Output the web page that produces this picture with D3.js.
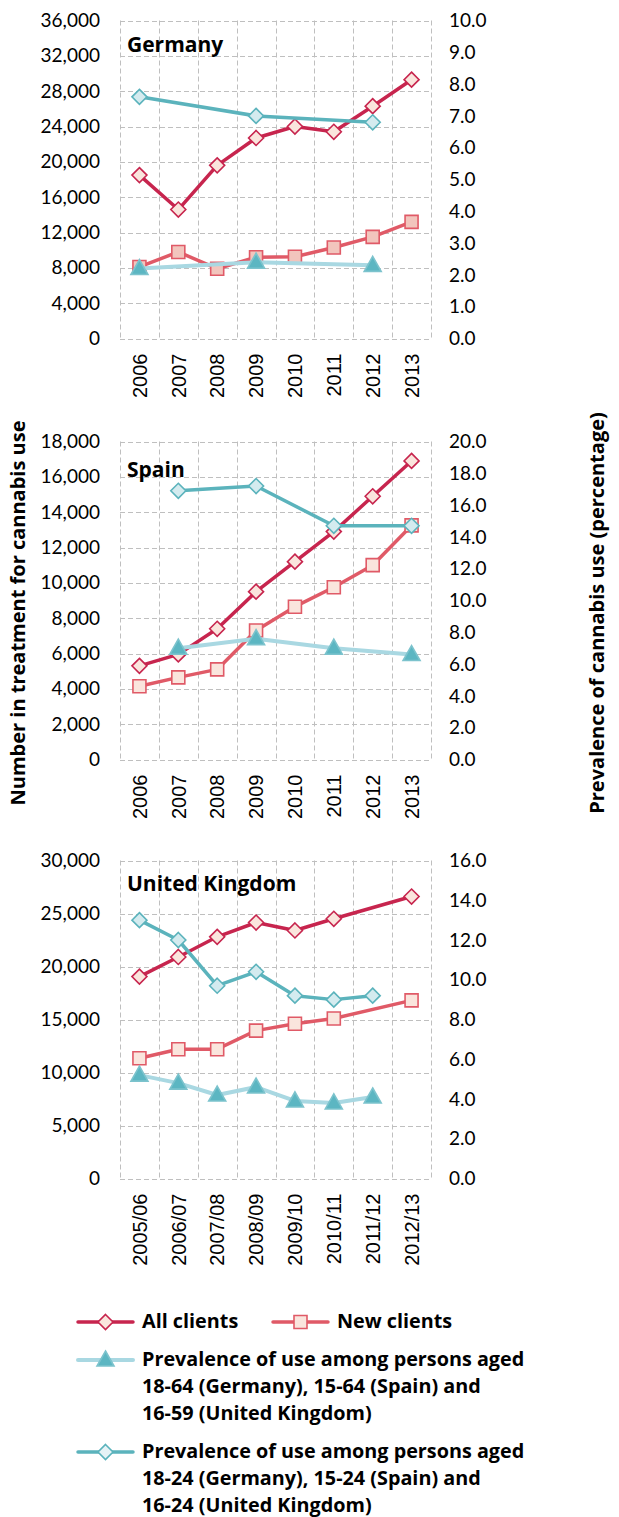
<!DOCTYPE html>
<html>
<head>
<meta charset="utf-8" />
<script src="https://d3js.org/d3.v7.min.js"></script>
<style>
  body { margin: 0; background: #fff; }
  text { font-family: Lato, "Open Sans", sans-serif; fill: #000; }
  text.bold { font-family: "Open Sans", Lato, sans-serif; font-weight: bold; }
  .grid line { stroke: #bfbfbf; stroke-width: 1; stroke-dasharray: 5,3; }
</style>
</head>
<body>
<div id="chart"></div>
<script>
// ---- data ----
var germanyYears = ["2006", "2007", "2008", "2009", "2010", "2011", "2012", "2013"];
var germanyAll = [18500, 14600, 19600, 22700, 24000, 23400, 26300, 29300];
var germanyNew = [8100, 9800, 7900, 9200, 9250, 10300, 11500, 13200];
var germanyAdult = [2.2, null, null, 2.4, null, null, 2.3, null];
var germanyYoung = [7.6, null, null, 7.0, null, null, 6.8, null];
var germanyLeftTicks = [0, 4000, 8000, 12000, 16000, 20000, 24000, 28000, 32000, 36000];
var germanyRightTicks = [0, 1, 2, 3, 4, 5, 6, 7, 8, 9, 10];

var spainYears = ["2006", "2007", "2008", "2009", "2010", "2011", "2012", "2013"];
var spainAll = [5300, 5950, 7400, 9500, 11200, 12900, 14900, 16900];
var spainNew = [4150, 4650, 5100, 7300, 8650, 9750, 11000, 13250];
var spainAdult = [null, 7.0, null, 7.6, null, 7.0, null, 6.6];
var spainYoung = [null, 16.9, null, 17.2, null, 14.7, null, 14.7];
var spainLeftTicks = [0, 2000, 4000, 6000, 8000, 10000, 12000, 14000, 16000, 18000];
var spainRightTicks = [0, 2, 4, 6, 8, 10, 12, 14, 16, 18, 20];

var ukYears = ["2005/06", "2006/07", "2007/08", "2008/09", "2009/10", "2010/11", "2011/12", "2012/13"];
var ukAll = [19050, 20900, 22800, 24150, 23400, 24500, null, 26600];
var ukNew = [11350, 12200, 12200, 13950, 14600, 15100, null, 16800];
var ukAdult = [5.2, 4.8, 4.2, 4.6, 3.9, 3.8, 4.1, null];
var ukYoung = [13.0, 12.0, 9.7, 10.4, 9.2, 9.0, 9.2, null];
var ukLeftTicks = [0, 5000, 10000, 15000, 20000, 25000, 30000];
var ukRightTicks = [0, 2, 4, 6, 8, 10, 12, 14, 16];

var legendLabels = ["All clients", "New clients",
  ["Prevalence of use among persons aged", "18-64 (Germany), 15-64 (Spain) and", "16-59 (United Kingdom)"],
  ["Prevalence of use among persons aged", "18-24 (Germany), 15-24 (Spain) and", "16-24 (United Kingdom)"]];

// ---- styles ----
var colAll = "#c7254e", colNew = "#e05a67", colAdultLine = "#a9d8e2", colAdult = "#5cb6c2",
    colYoung = "#5bb3bc", fillPink = "#fae5dd", fillYoung = "#d4ebef";

var width = 619, height = 1517;
var plotLeft = 120, plotRight = 431, plotH = 318;

var svg = d3.select("#chart").append("svg")
  .attr("width", width)
  .attr("height", height);

var panels = [
  { name: "Germany", top: 20.5, years: germanyYears, all: germanyAll, nw: germanyNew, adult: germanyAdult, young: germanyYoung,
    lt: germanyLeftTicks, rt: germanyRightTicks, sqFill: "#f2c5bd", titleY: 52 },
  { name: "Spain", top: 441.5, years: spainYears, all: spainAll, nw: spainNew, adult: spainAdult, young: spainYoung,
    lt: spainLeftTicks, rt: spainRightTicks, sqFill: fillPink, titleY: 477 },
  { name: "United Kingdom", top: 860.5, years: ukYears, all: ukAll, nw: ukNew, adult: ukAdult, young: ukYoung,
    lt: ukLeftTicks, rt: ukRightTicks, sqFill: fillPink, titleY: 891 }
];

function diamondPath(r) { return "M0," + (-r) + "L" + r + ",0L0," + r + "L" + (-r) + ",0Z"; }
function squarePath(s) { var h = s / 2; return "M" + (-h) + "," + (-h) + "H" + h + "V" + h + "H" + (-h) + "Z"; }
function trianglePath(w, h) { return "M0," + (-h * 0.6) + "L" + (w / 2) + "," + (h * 0.4) + "L" + (-w / 2) + "," + (h * 0.4) + "Z"; }

var markers = {
  diamond: diamondPath(7.5),
  square: squarePath(13),
  triangle: trianglePath(17, 15)
};

panels.forEach(function (p) {
  var g = svg.append("g");
  var bottom = p.top + plotH;

  var x = d3.scaleBand().domain(p.years).range([plotLeft, plotRight]);
  var yL = d3.scaleLinear().domain([0, d3.max(p.lt)]).range([bottom, p.top]);
  var yR = d3.scaleLinear().domain([0, d3.max(p.rt)]).range([bottom, p.top]);

  // grid
  var grid = g.append("g").attr("class", "grid");
  grid.selectAll(".h").data(p.lt).enter().append("line")
    .attr("x1", plotLeft).attr("x2", plotRight)
    .attr("y1", function (d) { return Math.round(yL(d)) + 0.5; })
    .attr("y2", function (d) { return Math.round(yL(d)) + 0.5; });
  grid.selectAll(".v").data(d3.range(p.years.length + 1)).enter().append("line")
    .attr("x1", function (i) { return Math.round(plotLeft + i * x.step()) + 0.5; })
    .attr("x2", function (i) { return Math.round(plotLeft + i * x.step()) + 0.5; })
    .attr("y1", p.top).attr("y2", bottom);

  // left axis
  g.append("g").selectAll("text").data(p.lt).enter().append("text")
    .attr("x", 100).attr("y", function (d) { return yL(d); })
    .attr("dy", "0.35em").attr("text-anchor", "end")
    .style("font-size", "19px")
    .text(d3.format(","));

  // right axis
  g.append("g").selectAll("text").data(p.rt).enter().append("text")
    .attr("x", 449).attr("y", function (d) { return yR(d); })
    .attr("dy", "0.35em").attr("text-anchor", "start")
    .style("font-size", "19px")
    .text(d3.format(".1f"));

  // x labels
  g.append("g").selectAll("text").data(p.years).enter().append("text")
    .attr("transform", function (d) {
      return "translate(" + (x(d) + x.bandwidth() / 2) + "," + (bottom + 15) + ") rotate(-90)";
    })
    .attr("dy", "0.36em").attr("text-anchor", "end")
    .style("font-family", "'Liberation Sans', Arial, sans-serif")
    .style("font-size", "20px")
    .text(function (d) { return d; });

  // series
  var series = [
    { vals: p.all, scale: yL, line: colAll, lw: 3.5, marker: "diamond", fill: fillPink, stroke: colAll },
    { vals: p.nw, scale: yL, line: colNew, lw: 3.5, marker: "square", fill: p.sqFill, stroke: colNew },
    { vals: p.adult, scale: yR, line: colAdultLine, lw: 4, marker: "triangle", fill: colAdult, stroke: "#7cc3cd" },
    { vals: p.young, scale: yR, line: colYoung, lw: 3.5, marker: "diamond", fill: fillYoung, stroke: colYoung }
  ];

  series.forEach(function (s) {
    var pts = p.years.map(function (yr, i) { return { k: yr, v: s.vals[i] }; })
      .filter(function (d) { return d.v != null; });
    var line = d3.line()
      .x(function (d) { return x(d.k) + x.bandwidth() / 2; })
      .y(function (d) { return s.scale(d.v); });
    g.append("path").datum(pts)
      .attr("d", line)
      .attr("fill", "none")
      .attr("stroke", s.line)
      .attr("stroke-width", s.lw)
      .attr("stroke-linejoin", "round");
    g.selectAll(null).data(pts).enter().append("path")
      .attr("d", markers[s.marker])
      .attr("transform", function (d) { return "translate(" + (x(d.k) + x.bandwidth() / 2) + "," + s.scale(d.v) + ")"; })
      .attr("fill", s.fill)
      .attr("stroke", s.stroke)
      .attr("stroke-width", 1.6);
  });

  // panel title
  g.append("text")
    .attr("class", "bold")
    .attr("x", 127).attr("y", p.titleY)
    .style("font-size", "21px")
    .text(p.name);
});

// axis titles
svg.append("text")
  .attr("class", "bold")
  .attr("transform", "translate(25,613) rotate(-90)")
  .attr("text-anchor", "middle")
  .style("font-size", "20px")
  .text("Number in treatment for cannabis use");

svg.append("text")
  .attr("class", "bold")
  .attr("transform", "translate(604,613) rotate(-90)")
  .attr("text-anchor", "middle")
  .style("font-size", "20px")
  .text("Prevalence of cannabis use (percentage)");

// legend
var legend = svg.append("g");
var legendItems = [
  { x: 78, y: 1322, line: colAll, lw: 3.5, marker: "diamond", fill: fillPink, stroke: colAll, label: legendLabels[0] },
  { x: 273, y: 1322, line: colNew, lw: 3.5, marker: "square", fill: fillPink, stroke: colNew, label: legendLabels[1] },
  { x: 78, y: 1360, line: colAdultLine, lw: 4, marker: "triangle", fill: colAdult, stroke: "#7cc3cd", label: legendLabels[2] },
  { x: 78, y: 1452, line: colYoung, lw: 3.5, marker: "diamond", fill: "#e6f3f6", stroke: colYoung, label: legendLabels[3] }
];
legendItems.forEach(function (it) {
  legend.append("line")
    .attr("x1", it.x).attr("x2", it.x + 55)
    .attr("y1", it.y).attr("y2", it.y)
    .attr("stroke", it.line).attr("stroke-width", it.lw).attr("stroke-linecap", "round");
  legend.append("path")
    .attr("d", markers[it.marker])
    .attr("transform", "translate(" + (it.x + 27.5) + "," + it.y + ")")
    .attr("fill", it.fill).attr("stroke", it.stroke).attr("stroke-width", 1.6);
  var lines = Array.isArray(it.label) ? it.label : [it.label];
  var t = legend.append("text").attr("class", "bold")
    .style("font-size", "19.8px")
    .attr("x", it.x + 64).attr("y", it.y + 6);
  lines.forEach(function (l, i) {
    t.append("tspan").attr("x", it.x + 64).attr("dy", i === 0 ? 0 : 27.2).text(l);
  });
});
</script>
</body>
</html>
